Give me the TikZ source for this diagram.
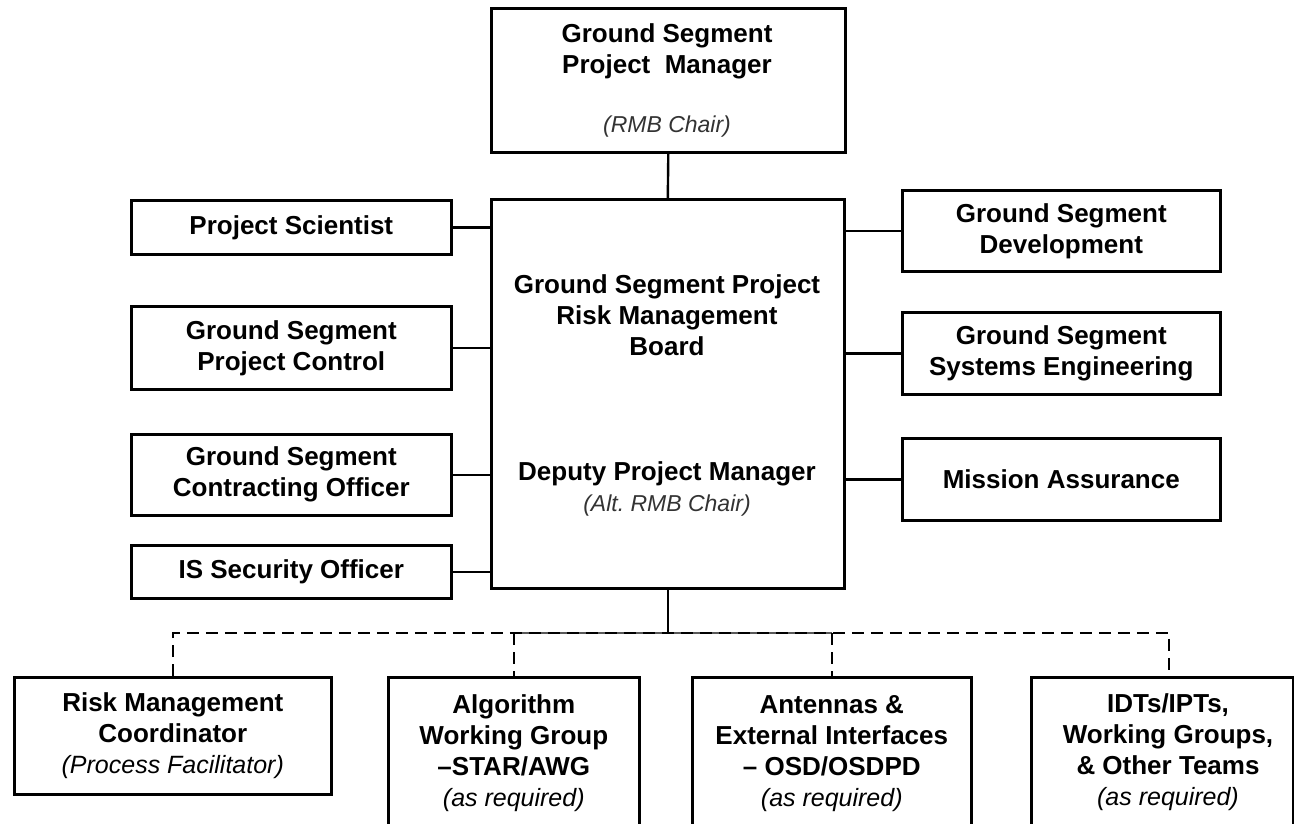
\documentclass[tikz,border=0pt]{standalone}
\usepackage{fontspec}
\setmainfont{Liberation Sans}
\frenchspacing
\begin{document}
\begin{tikzpicture}[x=1pt,y=-1pt]
\tikzset{
  box/.style={draw=black, line width=2.6pt, fill=white, inner sep=0pt, anchor=north west, align=center, font=\bfseries\fontsize{26}{31}\selectfont},
  lab/.style={align=center, inner sep=0pt, font=\bfseries\fontsize{26}{31}\selectfont},
  note/.style={inner sep=0pt, font=\itshape\fontsize{23}{28}\selectfont, text=black!80},
  conn/.style={line width=2.4pt},
  busline/.style={line width=2.4pt, dash pattern=on 12pt off 7pt},
}
\path[use as bounding box, clip] (0,0) rectangle (1294,823);
\fill[white] (0,0) rectangle (1294,823);

% top and board
\node[box, minimum width=354pt, minimum height=144pt] (pm) at (490,7) {};
\node[lab] (pmt) at (667,51) {Ground Segment\\Project~\ Manager};
\node[note] (pmn) at (667,127) {(RMB Chair)};

\node[box, minimum width=353pt, minimum height=389pt] (rmb) at (490,198) {};
\node[lab] (rmbt) at (667,315) {Ground Segment Project\\Risk Management\\Board};
\node[lab] (dpm) at (667,489) {Deputy Project Manager\\{\mdseries\itshape\fontsize{23}{28}\selectfont\color{black!80}(Alt.\ RMB Chair)}};

% left
\node[box, minimum width=320pt, minimum height=54pt] (ps) at (130,199) {Project Scientist};
\node[box, minimum width=320pt, minimum height=83pt] (pc) at (130,305) {Ground Segment\\Project Control};
\node[box, minimum width=320pt, minimum height=81pt] (co) at (130,433) {Ground Segment\\Contracting Officer};
\node[box, minimum width=320pt, minimum height=53pt] (iso) at (130,544) {IS Security Officer};

% right
\node[box, minimum width=318pt, minimum height=81pt] (dev) at (901,189) {Ground Segment\\Development};
\node[box, minimum width=318pt, minimum height=82pt] (se) at (901,311) {Ground Segment\\Systems Engineering};
\node[box, minimum width=318pt, minimum height=82pt] (ma) at (901,437) {Mission Assurance};

% bottom
\node[box, minimum width=317pt, minimum height=117pt] (rmc) at (13,676) {Risk Management\\Coordinator\\{\mdseries\itshape\fontsize{25}{31}\selectfont (Process Facilitator)}};
\node[box, minimum width=251pt, minimum height=152pt] (alg) at (387,676) {Algorithm\\Working Group\\–STAR/AWG\\{\mdseries\itshape\fontsize{25}{31}\selectfont (as required)}};
\node[box, minimum width=279pt, minimum height=152pt] (ant) at (691,676) {Antennas \&\\External Interfaces\\– OSD/OSDPD\\{\mdseries\itshape\fontsize{25}{31}\selectfont (as required)}};
\node[box, minimum width=262pt, minimum height=152pt] (idt) at (1030,676) {};
\node[lab] (idtt) at (1168,752) {IDTs/IPTs,\\Working Groups,\\\& Other Teams\\{\mdseries\itshape\fontsize{25}{31}\selectfont (as required)}};

% connectors
\draw[conn] (pm.south) -- (rmb.north);
\draw[conn] (ps.east) -- (ps.east -| rmb.west);
\draw[conn] (pc.east) -- (pc.east -| rmb.west);
\draw[conn] (co.east) -- (co.east -| rmb.west);
\draw[conn] (iso.east) -- (iso.east -| rmb.west);
\draw[conn] (dev.west) -- (dev.west -| rmb.east);
\draw[conn] (se.west) -- (se.west -| rmb.east);
\draw[conn] (ma.west) -- (ma.west -| rmb.east);

\coordinate (bus) at (667,633);
\coordinate (idtdrop) at (1169,676);
\draw[conn] (rmb.south) -- (rmb.south |- bus);
\draw[line width=2pt, black!65] (alg.north |- bus) -- (ant.north |- bus);
\draw[busline] (rmc.north) -- (rmc.north |- bus) -- (idtdrop |- bus) -- (idtdrop);
\draw[busline] (alg.north |- bus) -- (alg.north);
\draw[busline] (ant.north |- bus) -- (ant.north);
\end{tikzpicture}
\end{document}
